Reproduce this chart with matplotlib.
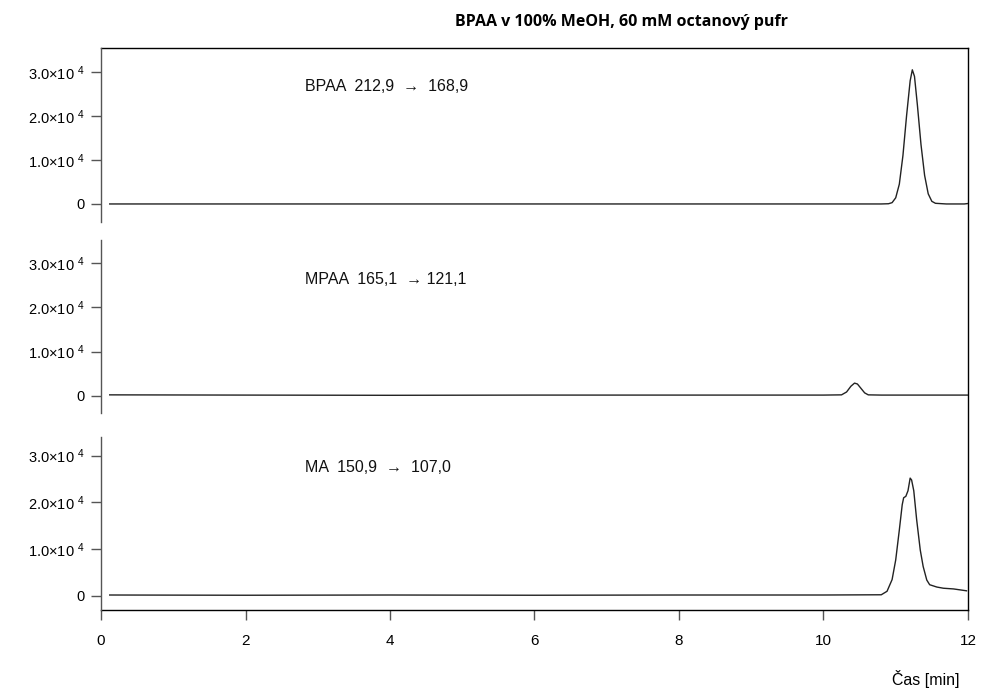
import matplotlib
matplotlib.use("Agg")
import matplotlib.pyplot as plt

plt.rcParams["font.family"] = ["Liberation Sans", "DejaVu Sans"]
plt.rcParams["mathtext.fontset"] = "custom"
plt.rcParams["mathtext.rm"] = "Liberation Sans"
plt.rcParams["mathtext.it"] = "Liberation Sans:italic"
plt.rcParams["font.size"] = 10.5

TITLE = "BPAA v 100% MeOH, 60 mM octanový pufr"
XLABEL = "Čas [min]"
X_TICKS = [0, 2, 4, 6, 8, 10, 12]
Y_TICKS = [0, 10000, 20000, 30000]
Y_TICK_LABELS = ["0", r"1.0$\times$10 $^{4}$", r"2.0$\times$10 $^{4}$", r"3.0$\times$10 $^{4}$"]

# BPAA 212,9 -> 168,9
bpaa_label = "BPAA  212,9  \u2192  168,9"
bpaa_t = [0.12, 2.0, 4.0, 6.0, 8.0, 10.0, 10.8, 10.9, 10.95, 11.0, 11.05, 11.1, 11.15,
          11.2, 11.23, 11.26, 11.3, 11.35, 11.4, 11.45, 11.5, 11.55, 11.7, 11.95, 12.0]
bpaa_i = [0, 0, 0, 0, 0, 0, 0, 50, 300, 1400, 4500, 11000, 20000,
          28000, 30500, 29000, 22500, 13500, 6500, 2300, 600, 150, 0, 0, 100]

# MPAA 165,1 -> 121,1
mpaa_label = "MPAA  165,1  \u2192 121,1"
mpaa_t = [0.12, 2.0, 4.0, 6.0, 8.0, 10.0, 10.25, 10.32, 10.38, 10.43, 10.47, 10.52,
          10.57, 10.62, 10.8, 11.5, 12.0]
mpaa_i = [250, 200, 150, 200, 200, 200, 250, 900, 2200, 2900, 2700, 1700,
          700, 250, 200, 200, 200]

# MA 150,9 -> 107,0
ma_label = "MA  150,9  \u2192  107,0"
ma_t = [0.12, 2.0, 4.0, 6.0, 8.0, 10.0, 10.8, 10.88, 10.95, 11.0, 11.05, 11.09, 11.11,
        11.14, 11.17, 11.2, 11.22, 11.25, 11.29, 11.34, 11.38, 11.43, 11.47, 11.57,
        11.66, 11.8, 11.98]
ma_i = [200, 150, 200, 150, 200, 200, 250, 1000, 3500, 7700, 14100, 19500, 21000,
        21300, 22500, 25200, 24800, 22500, 16300, 9800, 6300, 3400, 2400, 1900,
        1650, 1500, 1100]

# (times, intensities, label, label height, y-limits)
traces = [
    (bpaa_t, bpaa_i, bpaa_label, 26600, (-4100, 35450)),
    (mpaa_t, mpaa_i, mpaa_label, 26200, (-3840, 35200)),
    (ma_t, ma_i, ma_label, 27400, (-3000, 34000)),
]

fig = plt.figure(figsize=(9.81, 6.89), dpi=100)

left, width = 0.103, 0.8837

# outer frame: top, right and the shared time axis
frame = fig.add_axes([left, 0.1147, width, 0.8156])
frame.set_xlim(0, 12)
frame.set_ylim(0, 1)
frame.spines["left"].set_visible(False)
for s in ["top", "right", "bottom"]:
    frame.spines[s].set_color("black")
    frame.spines[s].set_linewidth(1.0)
frame.set_yticks([])
frame.set_xticks(X_TICKS)
frame.set_xticklabels([str(t) for t in X_TICKS])
frame.tick_params(axis="x", direction="out", length=7, width=1.0, color="#555555",
                  pad=10, labelsize=11)

panel_rects = [
    [left, 0.6778, width, 0.2525],
    [left, 0.4006, width, 0.2511],
    [left, 0.1147, width, 0.2511],
]

for rect, (t, inten, label, label_y, ylim) in zip(panel_rects, traces):
    ax = fig.add_axes(rect)
    ax.patch.set_alpha(0)
    ax.plot(t, inten, color="#222222", lw=1.0)
    ax.set_xlim(0, 12)
    ax.set_ylim(*ylim)
    for s in ["top", "right", "bottom"]:
        ax.spines[s].set_visible(False)
    ax.spines["left"].set_color("#555555")
    ax.spines["left"].set_linewidth(1.0)
    ax.set_xticks([])
    ax.set_yticks(Y_TICKS)
    ax.set_yticklabels(Y_TICK_LABELS)
    ax.tick_params(axis="y", direction="out", length=7, width=1.0, color="#555555", pad=5)
    ax.text(2.82, label_y, label, fontsize=11.5, ha="left", va="center", color="#111111")

fig.text(0.634, 0.968, TITLE, fontsize=11.5, fontweight="bold",
         family=["Open Sans", "DejaVu Sans"], ha="center", va="center")
fig.text(0.978, 0.014, XLABEL, fontsize=11.5, ha="right", va="center")

fig.savefig("out.png", dpi=100)
